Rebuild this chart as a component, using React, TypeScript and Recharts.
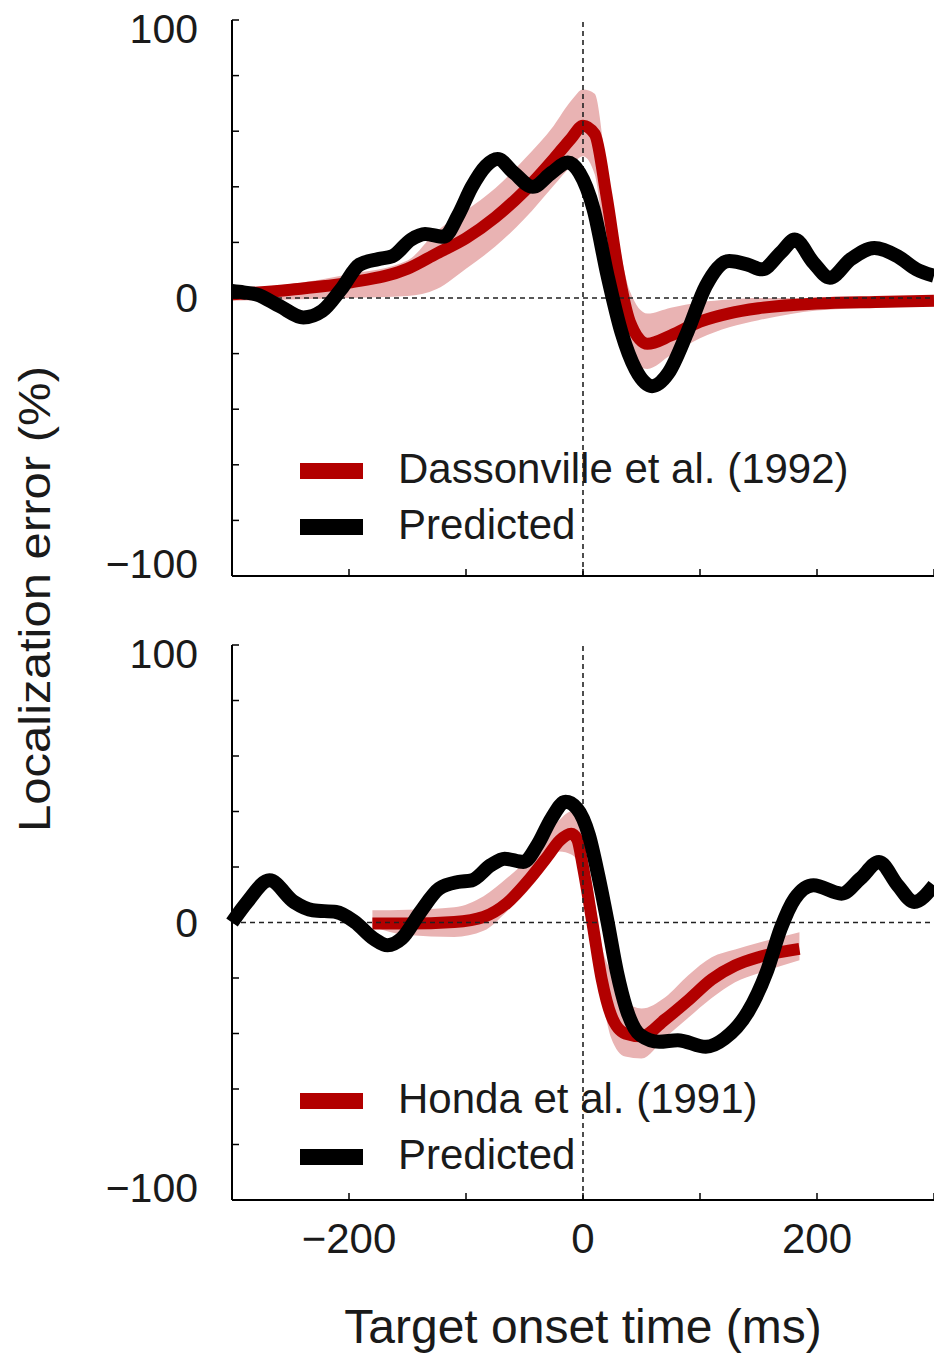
import React from "react";
import { Area, ComposedChart, Label, Legend, Line, ReferenceLine, XAxis, YAxis } from "recharts";

const FONT = "'Liberation Sans', Arial, Helvetica, sans-serif";
const RED = "#b20000";
const PINK = "#e9b3b3";
const INK = "#1a1a1a";

const X_TICKS = [-300, -200, -100, 0, 100, 200, 300];
const X_LABELS = [-200, 0, 200];
const Y_TICKS = [-100, -80, -60, -40, -20, 0, 20, 40, 60, 80, 100];
const Y_LABELS = [-100, 0, 100];

// top panel: Dassonville et al. (1992)
const dassX = [-300, -250, -200, -150, -125, -100, -75, -50, -25, -10, 0, 10, 20, 30, 40, 55, 75, 100, 125, 150, 200, 250, 300];
const dassMean = [1.3, 3, 5.5, 10.5, 16, 21.5, 29, 38.5, 50, 57.5, 62, 59, 37, 10, -8.5, -16.5, -13.5, -8.5, -5.5, -3.7, -2, -1.4, -1];
const dassLow = [-1, -0.5, 0, 0.7, 3.2, 10.5, 18.5, 28.5, 40.5, 47.5, 51, 44.5, 14.5, -7, -21, -25.5, -20.5, -14.5, -10.5, -8, -4.5, -3.5, -3];
const dassHigh = [3, 5, 8.5, 13.5, 24, 31.5, 39.5, 50, 62, 71, 75, 73.5, 47, 21.5, 2.5, -5.6, -3.5, -1.5, -0.5, 0, 0, 0.2, 0.5];

const predTopX = [-300, -290, -279, -259, -239, -223, -207, -191, -175, -163, -147, -135, -119, -107, -95, -83, -73, -59, -43, -27, -13, -3, 9, 21, 33, 45, 59, 73, 89, 105, 125, 141, 153, 169, 181, 197, 211, 229, 249, 269, 285, 300];
const predTopY = [2.5, 2, 1.3, -3, -7, -4.7, 3, 12, 14, 15, 21, 23, 22, 29.5, 40, 47.5, 50, 45, 40, 45, 48.7, 45, 32, 8, -12.5, -25.7, -31.7, -27, -12.5, 4.3, 13.3, 12, 10.3, 16.3, 21, 12.7, 7.3, 14, 18, 15, 10.3, 8];

// bottom panel: Honda et al. (1991)
const hondaX = [-180, -150, -110, -85, -65, -45, -30, -20, -10, -5, 0, 8, 16, 24, 36, 50, 70, 90, 110, 130, 150, 185];
const hondaMean = [-0.4, -0.4, 0.2, 2, 7, 16, 24, 29.5, 32, 30, 20, 0, -20.5, -33.4, -40, -41, -35, -28, -20.5, -15.5, -12.5, -9.5];
const hondaLow = [-1.6, -4.5, -5.2, -3, 4, 12.5, 20.8, 25.6, 24.5, 22, 13, -7.2, -26.3, -41.5, -48.3, -49, -41.5, -34.3, -27.2, -21.5, -18.3, -13.6];
const hondaHigh = [4.4, 4.6, 5.5, 9.5, 16, 24, 32, 37, 40, 39, 30, 13.2, -8.4, -18, -28, -31, -27, -19, -12.5, -9.7, -7.3, -3.5];

const predBotX = [-300, -287, -268, -247, -231, -211, -195, -179, -167, -155, -139, -123, -107, -95, -79, -67, -51, -39, -27, -15, -5, 5, 13, 21, 29, 37, 49, 65, 81, 105, 121, 141, 157, 169, 181, 197, 221, 237, 253, 269, 283, 300];
const predBotY = [0, 7.4, 15.2, 7.4, 4.4, 3.8, 0.2, -5.8, -8.2, -5.8, 3.8, 12.2, 14.6, 15.2, 20.6, 23, 21.8, 27.9, 37.5, 43.5, 41, 31.5, 17, 0.2, -17.8, -31, -40.6, -43, -42.4, -44.8, -41.8, -32.2, -17.8, -2.2, 8.6, 13.4, 10.4, 15.8, 21.8, 13.4, 7.4, 13.4];

const toObs = (xs: number[], mean: number[], lo: number[], hi: number[]) =>
  xs.map((x, i) => ({ x, mean: mean[i], band: [lo[i], hi[i]] }));
const toPred = (xs: number[], ys: number[]) => xs.map((x, i) => ({ x, y: ys[i] }));

const fmt = (v: number) => (v < 0 ? `\u2212${Math.abs(v)}` : `${v}`);

function YTick({ x, y, payload }: any) {
  const v = payload.value;
  if (!Y_LABELS.includes(v)) return null;
  const nudge = v > 0 ? 9 : v < 0 ? -12 : 0;
  return (
    <text x={x} y={y + nudge} dy="0.35em" textAnchor="end" fontSize={41} fontFamily={FONT} fill={INK}>
      {fmt(v)}
    </text>
  );
}

function makeXTick(show: boolean) {
  return function XTick({ x, y, payload }: any) {
    const v = payload.value;
    if (!show || !X_LABELS.includes(v)) return null;
    return (
      <text x={x} y={y} dy="0.71em" textAnchor="middle" fontSize={42} fontFamily={FONT} fill={INK}>
        {fmt(v)}
      </text>
    );
  };
}

function LegendBox({ obsName }: { obsName: string }) {
  const rows = [
    { name: obsName, color: RED },
    { name: "Predicted", color: "#000" },
  ];
  return (
    <svg width={600} height={100} style={{ display: "block", overflow: "visible" }}>
      {rows.map((r, i) => (
        <g key={r.name} transform={`translate(0, ${i * 56})`}>
          <rect x={0} y={13} width={63} height={16} fill={r.color} />
          <text x={98} y={33} fontSize={42} fontFamily={FONT} fill={INK}>
            {r.name}
          </text>
        </g>
      ))}
    </svg>
  );
}

function Panel({
  obs,
  pred,
  obsName,
  height,
  xAxisHeight,
  legendTop,
  showXLabels,
}: {
  obs: { x: number; mean: number; band: number[] }[];
  pred: { x: number; y: number }[];
  obsName: string;
  height: number;
  xAxisHeight: number;
  legendTop: number;
  showXLabels: boolean;
}) {
  const dash = { stroke: "#222", strokeWidth: 1.6, strokeDasharray: "5 4" };
  return (
    <ComposedChart width={934} height={height} margin={{ top: 20, right: 0, bottom: 0, left: 0 }}>
      <XAxis
        type="number"
        dataKey="x"
        domain={[-300, 300]}
        ticks={X_TICKS}
        interval={0}
        height={xAxisHeight}
        tickSize={-7}
        tickMargin={30}
        axisLine={{ stroke: "#000", strokeWidth: 2 }}
        tickLine={{ stroke: "#000", strokeWidth: 1.5 }}
        tick={makeXTick(showXLabels)}
      >
        {showXLabels && (
          <Label
            value="Target onset time (ms)"
            position="insideBottom"
            offset={12}
            style={{ fontSize: 48, fontFamily: FONT, fill: INK }}
          />
        )}
      </XAxis>
      <YAxis
        type="number"
        domain={[-100, 100]}
        ticks={Y_TICKS}
        interval={0}
        width={232}
        tickSize={-7}
        tickMargin={41}
        axisLine={{ stroke: "#000", strokeWidth: 2 }}
        tickLine={{ stroke: "#000", strokeWidth: 1.5 }}
        tick={YTick}
      />
      <Area
        data={obs}
        dataKey="band"
        type="monotone"
        stroke="none"
        fill={PINK}
        fillOpacity={1}
        isAnimationActive={false}
      />
      <Line
        data={obs}
        dataKey="mean"
        type="monotone"
        stroke={RED}
        strokeWidth={12}
        dot={false}
        isAnimationActive={false}
      />
      <ReferenceLine y={0} {...dash} />
      <ReferenceLine x={0} {...dash} />
      <Line
        data={pred}
        dataKey="y"
        type="monotone"
        stroke="#000"
        strokeWidth={14}
        strokeLinejoin="round"
        dot={false}
        isAnimationActive={false}
      />
      <Legend
        layout="vertical"
        align="center"
        verticalAlign="middle"
        wrapperStyle={{ top: legendTop, left: 300, width: 600, height: 100 }}
        content={() => <LegendBox obsName={obsName} />}
      />
    </ComposedChart>
  );
}

export default function App() {
  const dass = toObs(dassX, dassMean, dassLow, dassHigh);
  const honda = toObs(hondaX, hondaMean, hondaLow, hondaHigh);
  return (
    <div style={{ position: "absolute", left: 0, top: 0, width: 934, height: 1355, background: "#fff", overflow: "hidden" }}>
      <div style={{ position: "absolute", left: 0, top: 0 }}>
        <Panel
          obs={dass}
          pred={toPred(predTopX, predTopY)}
          obsName="Dassonville et al. (1992)"
          height={600}
          xAxisHeight={24}
          legendTop={450}
          showXLabels={false}
        />
      </div>
      <div style={{ position: "absolute", left: 0, top: 625 }}>
        <Panel
          obs={honda}
          pred={toPred(predBotX, predBotY)}
          obsName="Honda et al. (1991)"
          height={730}
          xAxisHeight={155}
          legendTop={455}
          showXLabels={true}
        />
      </div>
      <svg width={80} height={1355} style={{ position: "absolute", left: 0, top: 0 }}>
        <text
          x={50}
          y={599}
          transform="rotate(-90, 50, 599)"
          textAnchor="middle"
          fontSize={44}
          fontFamily={FONT}
          fill={INK}
          textLength={466}
          lengthAdjust="spacingAndGlyphs"
        >
          Localization error (%)
        </text>
      </svg>
    </div>
  );
}
